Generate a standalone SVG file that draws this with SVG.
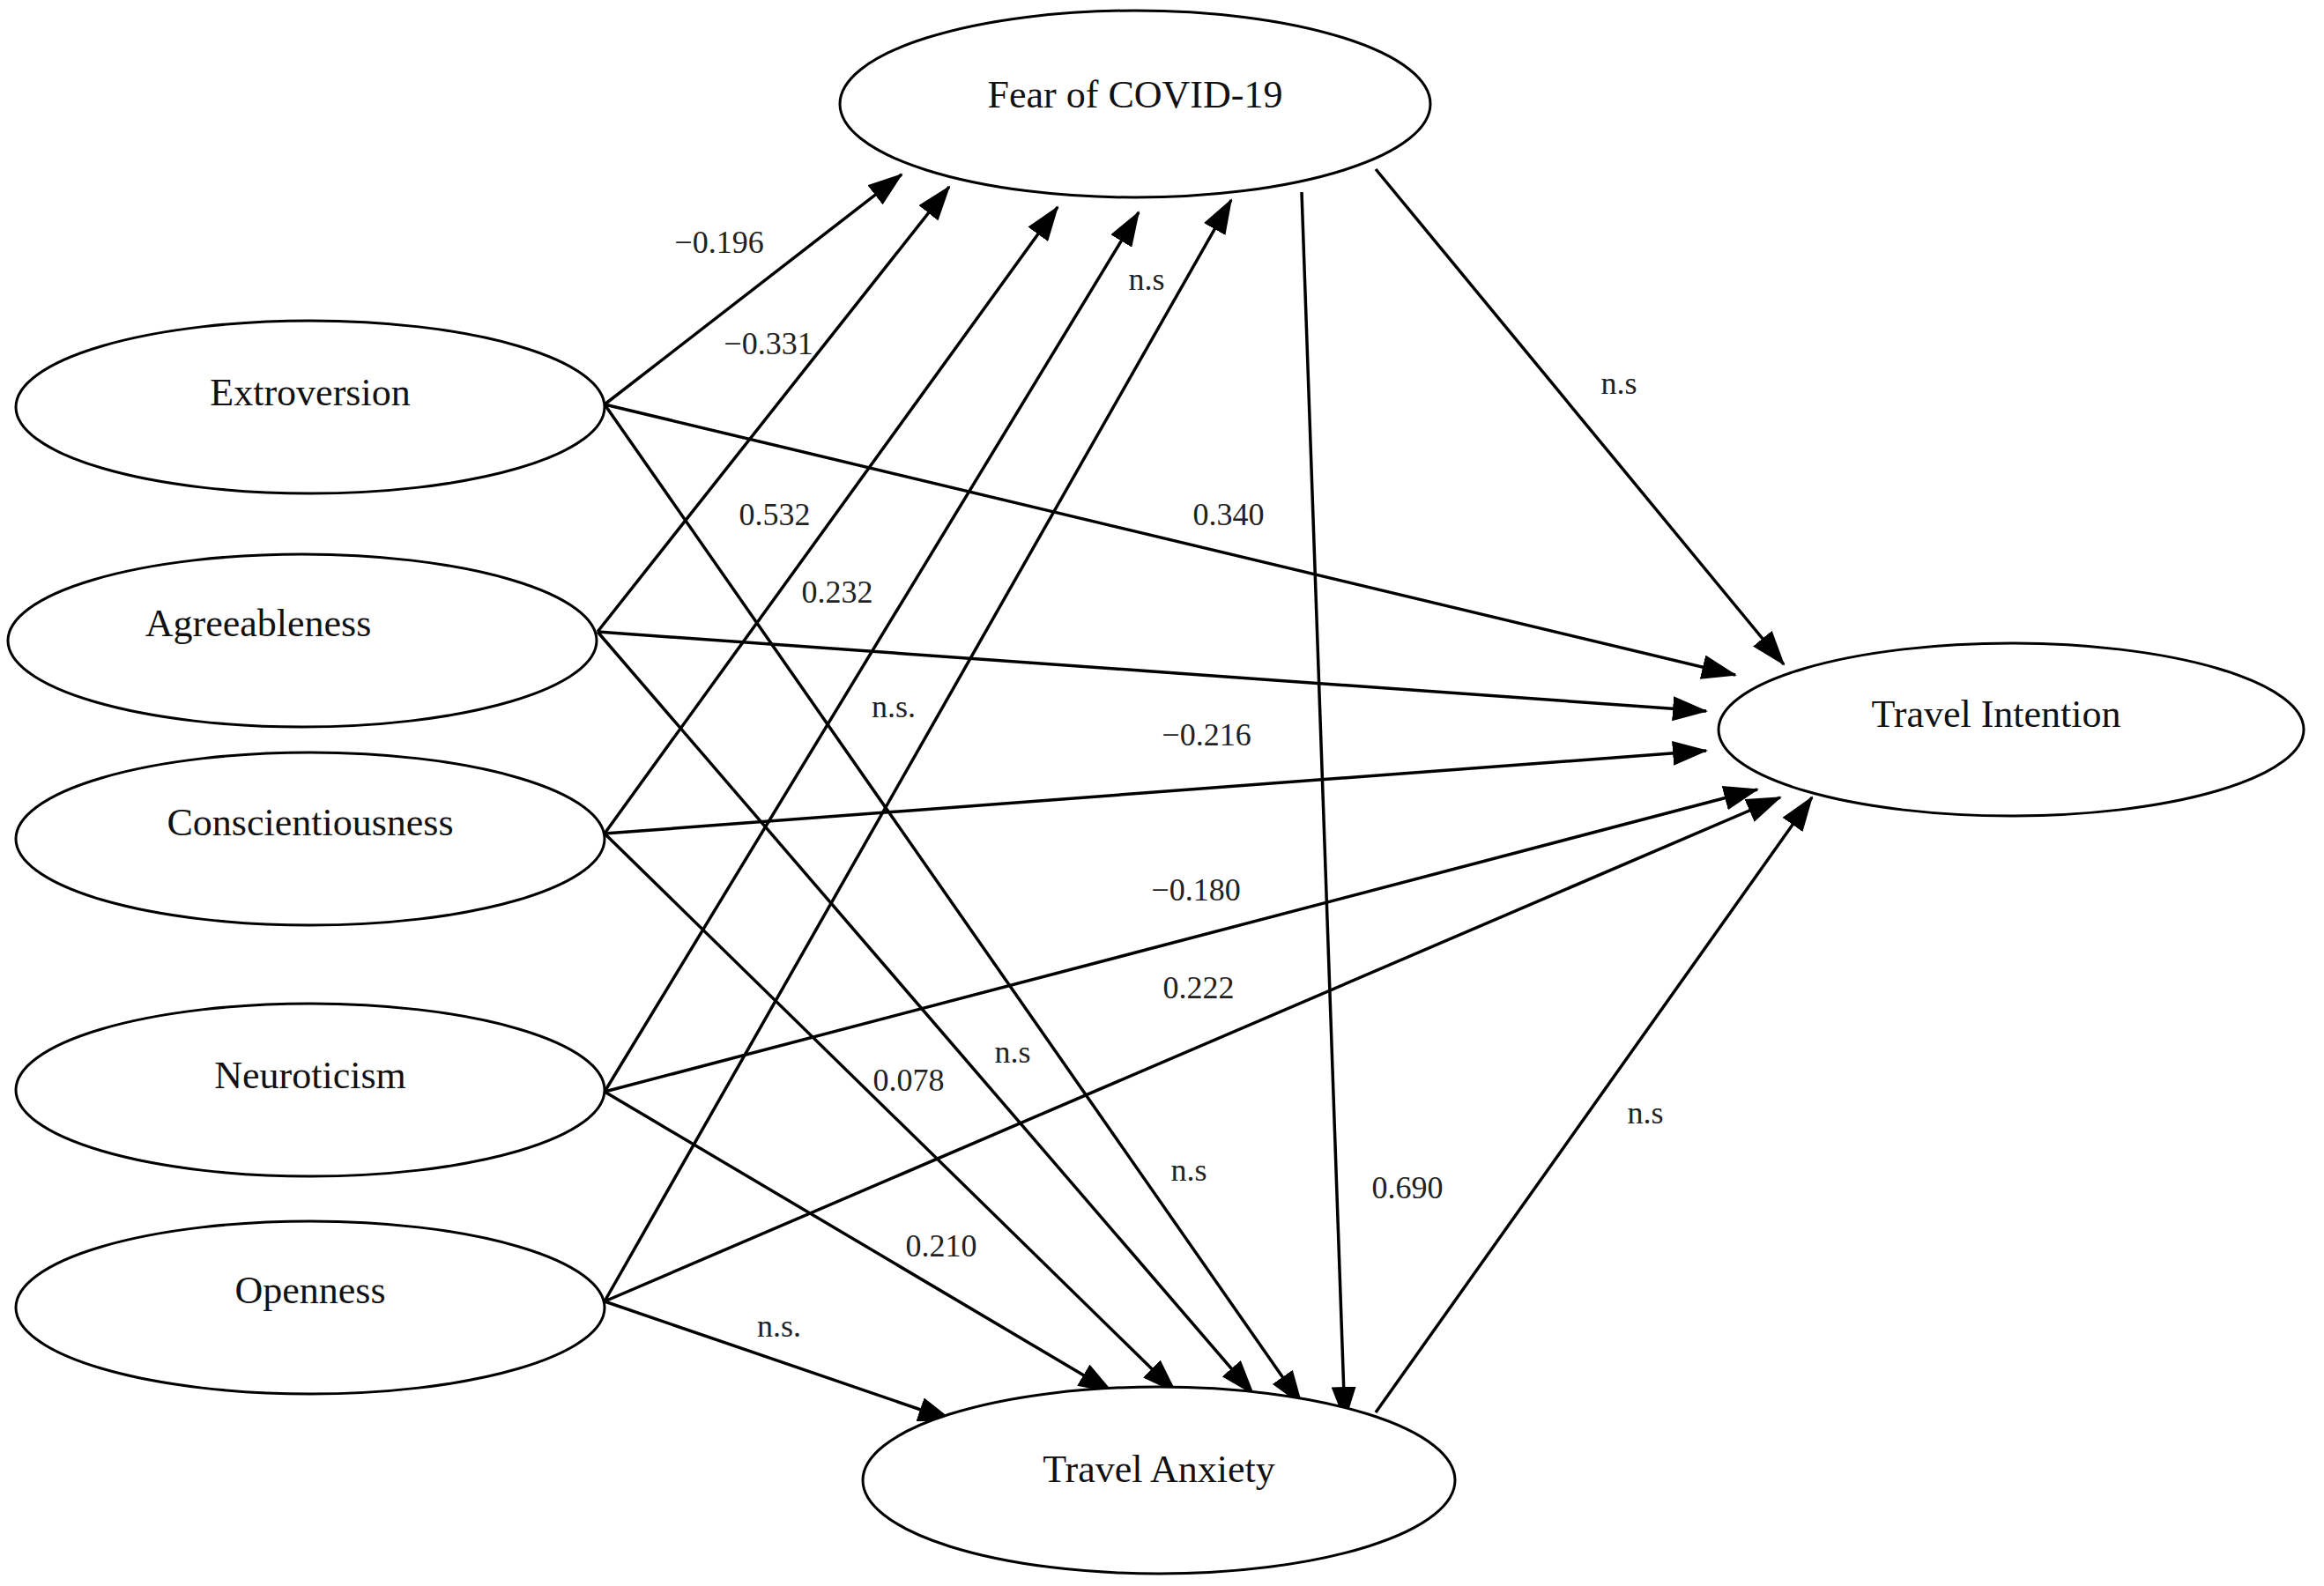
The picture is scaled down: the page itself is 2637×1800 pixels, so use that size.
<svg xmlns="http://www.w3.org/2000/svg" width="2637" height="1800" viewBox="0 0 2637 1800">
<style>
.n ellipse{fill:#fff;stroke:#000;stroke-width:3}
.n text{font-family:"Liberation Serif",serif;font-size:44px;text-anchor:middle;fill:#111}
.e line{stroke:#000;stroke-width:3.5;marker-end:url(#a)}
.l text{font-family:"Liberation Serif",serif;font-size:36px;text-anchor:middle;fill:#222}
</style>
<defs><marker id="a" markerUnits="userSpaceOnUse" markerWidth="40" markerHeight="28" refX="38" refY="14" orient="auto"><path d="M0,0 L40,14 L0,28 Z" fill="#000"/></marker></defs>
<rect width="2637" height="1800" fill="#fff"/>
<g class="e">
<line x1="686" y1="459" x2="1023" y2="198"/>
<line x1="678" y1="717" x2="1077" y2="212"/>
<line x1="686" y1="946" x2="1200" y2="235"/>
<line x1="686" y1="1239" x2="1292" y2="241"/>
<line x1="686" y1="1477" x2="1397" y2="227"/>
<line x1="686" y1="459" x2="1969" y2="766"/>
<line x1="678" y1="717" x2="1936" y2="807"/>
<line x1="686" y1="946" x2="1936" y2="852"/>
<line x1="686" y1="1239" x2="1994" y2="896"/>
<line x1="686" y1="1477" x2="2020" y2="905"/>
<line x1="1561" y1="192" x2="2024" y2="754"/>
<line x1="1561" y1="1603" x2="2056" y2="905"/>
<line x1="686" y1="1477" x2="1080" y2="1612"/>
<line x1="686" y1="1239" x2="1262" y2="1580"/>
<line x1="686" y1="946" x2="1334" y2="1580"/>
<line x1="678" y1="717" x2="1422" y2="1582"/>
<line x1="686" y1="459" x2="1477" y2="1594"/>
<line x1="1477" y1="218" x2="1526" y2="1612"/>
</g>
<g id="fear" class="n"><ellipse cx="1288" cy="118" rx="335" ry="106"/><text x="1288" y="122">Fear of COVID-19</text></g>
<g id="extroversion" class="n"><ellipse cx="352" cy="462" rx="334" ry="98"/><text x="352" y="460">Extroversion</text></g>
<g id="agreeableness" class="n"><ellipse cx="343" cy="727" rx="334" ry="98"/><text x="293" y="722">Agreeableness</text></g>
<g id="conscientiousness" class="n"><ellipse cx="352" cy="952" rx="334" ry="98"/><text x="352" y="948">Conscientiousness</text></g>
<g id="neuroticism" class="n"><ellipse cx="352" cy="1237" rx="334" ry="98"/><text x="352" y="1235">Neuroticism</text></g>
<g id="openness" class="n"><ellipse cx="352" cy="1484" rx="334" ry="98"/><text x="352" y="1479">Openness</text></g>
<g id="intention" class="n"><ellipse cx="2282" cy="828" rx="332" ry="98"/><text x="2265" y="825">Travel Intention</text></g>
<g id="anxiety" class="n"><ellipse cx="1315" cy="1680" rx="336" ry="106"/><text x="1315" y="1682">Travel Anxiety</text></g>
<g class="l">
<text x="816" y="287">−0.196</text>
<text x="872" y="402">−0.331</text>
<text x="1301" y="329">n.s</text>
<text x="1837" y="447">n.s</text>
<text x="879" y="596">0.532</text>
<text x="1394" y="596">0.340</text>
<text x="950" y="684">0.232</text>
<text x="1014" y="814">n.s.</text>
<text x="1369" y="846">−0.216</text>
<text x="1357" y="1022">−0.180</text>
<text x="1360" y="1133">0.222</text>
<text x="1149" y="1206">n.s</text>
<text x="1031" y="1238">0.078</text>
<text x="1867" y="1275">n.s</text>
<text x="1349" y="1340">n.s</text>
<text x="1597" y="1360">0.690</text>
<text x="1068" y="1426">0.210</text>
<text x="884" y="1517">n.s.</text>
</g>
</svg>
